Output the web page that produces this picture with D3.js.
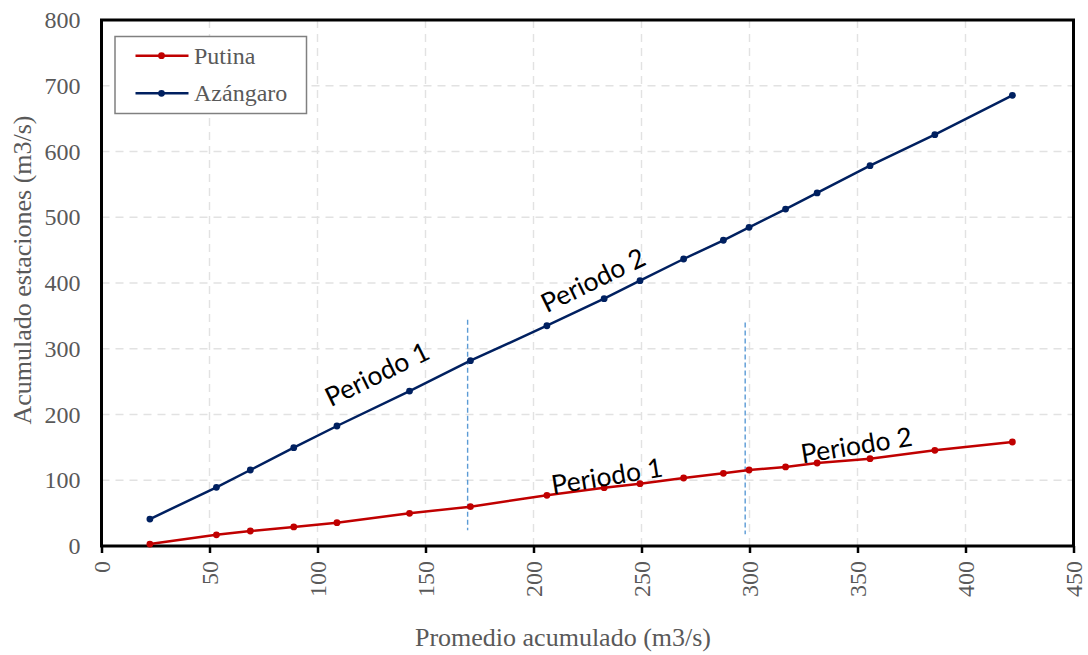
<!DOCTYPE html>
<html><head><meta charset="utf-8">
<script src="https://cdn.jsdelivr.net/npm/d3@7"></script>
<style>
html,body{margin:0;padding:0;background:#fff;}
svg{display:block;}
</style></head>
<body>
<svg id="chart" width="1088" height="655"></svg>
<script>
// ---- data ----
const promedio = [22.4, 53.2, 68.9, 89.0, 109.0, 142.6, 170.8, 206.2, 232.7, 249.3, 269.5, 287.9, 299.8, 316.7, 331.3, 355.8, 385.8, 421.7];
const putina   = [3.0, 17.0, 22.8, 29.0, 35.5, 49.7, 59.8, 77.1, 88.7, 94.8, 103.4, 110.5, 115.6, 120.2, 126.2, 132.8, 145.5, 158.2];
const azangaro = [41.0, 89.2, 115.6, 149.6, 182.5, 235.7, 281.8, 335.0, 376.2, 403.5, 436.5, 465.0, 484.7, 512.5, 537.0, 578.4, 625.6, 685.5];
const seriesNames = ["Putina", "Azángaro"];
const xTicks = [0, 50, 100, 150, 200, 250, 300, 350, 400, 450];
const yTicks = [0, 100, 200, 300, 400, 500, 600, 700, 800];
const breakX = [169.5, 298.0];
const breakYRange = [[24, 344], [18, 340]];
const periodLabels = [
  {text: "Periodo 1", x: 127.5, y: 261.5, angle: -26},
  {text: "Periodo 2", x: 227.5, y: 404.5, angle: -26},
  {text: "Periodo 1", x: 234, y: 106.5, angle: -9.3},
  {text: "Periodo 2", x: 349.5, y: 153.5, angle: -9.3}
];

// ---- layout ----
const svg = d3.select("#chart");
const m = {left: 101.5, top: 20, right: 1073.5, bottom: 546};
const x = d3.scaleLinear().domain([0, 450]).range([m.left, m.right]);
const y = d3.scaleLinear().domain([0, 800]).range([m.bottom, m.top]);
const grey = "#595959";
const serif = "'Liberation Serif','Times New Roman',serif";
const colors = ["#c00000", "#002060"];

// gridlines
svg.append("g").selectAll("line.gx").data(xTicks.slice(1, -1)).join("line")
  .attr("x1", d => x(d)).attr("x2", d => x(d)).attr("y1", m.top).attr("y2", m.bottom)
  .attr("stroke", "#e2e2e2").attr("stroke-width", 1.4).attr("stroke-dasharray", "8,6");
svg.append("g").selectAll("line.gy").data(yTicks.slice(1, -1)).join("line")
  .attr("x1", m.left).attr("x2", m.right).attr("y1", d => y(d)).attr("y2", d => y(d))
  .attr("stroke", "#e2e2e2").attr("stroke-width", 1.4).attr("stroke-dasharray", "8,6");

// x axis
const xAxis = svg.append("g").attr("transform", `translate(0,${m.bottom})`)
  .call(d3.axisBottom(x).tickValues(xTicks).tickSize(7).tickPadding(0));
xAxis.select(".domain").remove();
xAxis.selectAll(".tick line").attr("stroke", "#000").attr("stroke-width", 2.5);
xAxis.selectAll(".tick text")
  .attr("fill", grey).attr("font-family", serif).attr("font-size", 24)
  .attr("text-anchor", "end").attr("transform", "rotate(-90)")
  .attr("x", -15).attr("y", 0).attr("dy", "0.33em");

// y axis
const yAxis = svg.append("g").attr("transform", `translate(${m.left},0)`)
  .call(d3.axisLeft(y).tickValues(yTicks).tickSize(0).tickPadding(21));
yAxis.select(".domain").remove();
yAxis.selectAll(".tick text").attr("fill", grey).attr("font-family", serif).attr("font-size", 24);

// frame
svg.append("rect").attr("x", m.left).attr("y", m.top)
  .attr("width", m.right - m.left).attr("height", m.bottom - m.top)
  .attr("fill", "none").attr("stroke", "#000").attr("stroke-width", 3);

// break lines
svg.append("g").selectAll("line").data(breakX).join("line")
  .attr("x1", d => x(d)).attr("x2", d => x(d))
  .attr("y1", (d, i) => y(breakYRange[i][1])).attr("y2", (d, i) => y(breakYRange[i][0]))
  .attr("stroke", "#5b9bd5").attr("stroke-width", 1.4).attr("stroke-dasharray", "5,3");

// series
const allSeries = [putina, azangaro];
const line = d3.line().x(d => x(d[0])).y(d => y(d[1]));
allSeries.forEach((vals, i) => {
  const pts = promedio.map((p, j) => [p, vals[j]]);
  svg.append("path").datum(pts).attr("d", line)
    .attr("fill", "none").attr("stroke", colors[i]).attr("stroke-width", 2.5);
  svg.append("g").selectAll("circle").data(pts).join("circle")
    .attr("cx", d => x(d[0])).attr("cy", d => y(d[1])).attr("r", 3.4).attr("fill", colors[i]);
});

// period labels (positioned in data coords)
svg.append("g").selectAll("text").data(periodLabels).join("text")
  .attr("transform", d => `translate(${x(d.x)},${y(d.y)}) rotate(${d.angle})`)
  .attr("text-anchor", "middle").attr("dy", "0.36em")
  .attr("font-family", "Lato,'Liberation Sans',sans-serif").attr("font-size", 26.5)
  .attr("fill", "#000").text(d => d.text);

// legend
const lg = svg.append("g");
lg.append("rect").attr("x", 115).attr("y", 36.5).attr("width", 191.5).attr("height", 77)
  .attr("fill", "#fff").attr("stroke", "#808080").attr("stroke-width", 1.5);
seriesNames.forEach((n, i) => {
  const yy = 55.7 + i * 37.6;
  lg.append("line").attr("x1", 135.5).attr("x2", 188.5).attr("y1", yy).attr("y2", yy)
    .attr("stroke", colors[i]).attr("stroke-width", 2.5);
  lg.append("circle").attr("cx", 161.5).attr("cy", yy).attr("r", 3.4).attr("fill", colors[i]);
  lg.append("text").attr("x", 194).attr("y", yy).attr("dy", "0.33em")
    .attr("font-family", serif).attr("font-size", 24).attr("fill", grey).text(n);
});

// axis titles
svg.append("text").attr("x", 563).attr("y", 646)
  .attr("text-anchor", "middle").attr("font-family", serif).attr("font-size", 26)
  .attr("fill", grey).text("Promedio acumulado (m3/s)");
svg.append("text").attr("transform", `translate(31,270) rotate(-90)`)
  .attr("text-anchor", "middle").attr("font-family", serif).attr("font-size", 26)
  .attr("fill", grey).text("Acumulado estaciones (m3/s)");
</script>
</body></html>
